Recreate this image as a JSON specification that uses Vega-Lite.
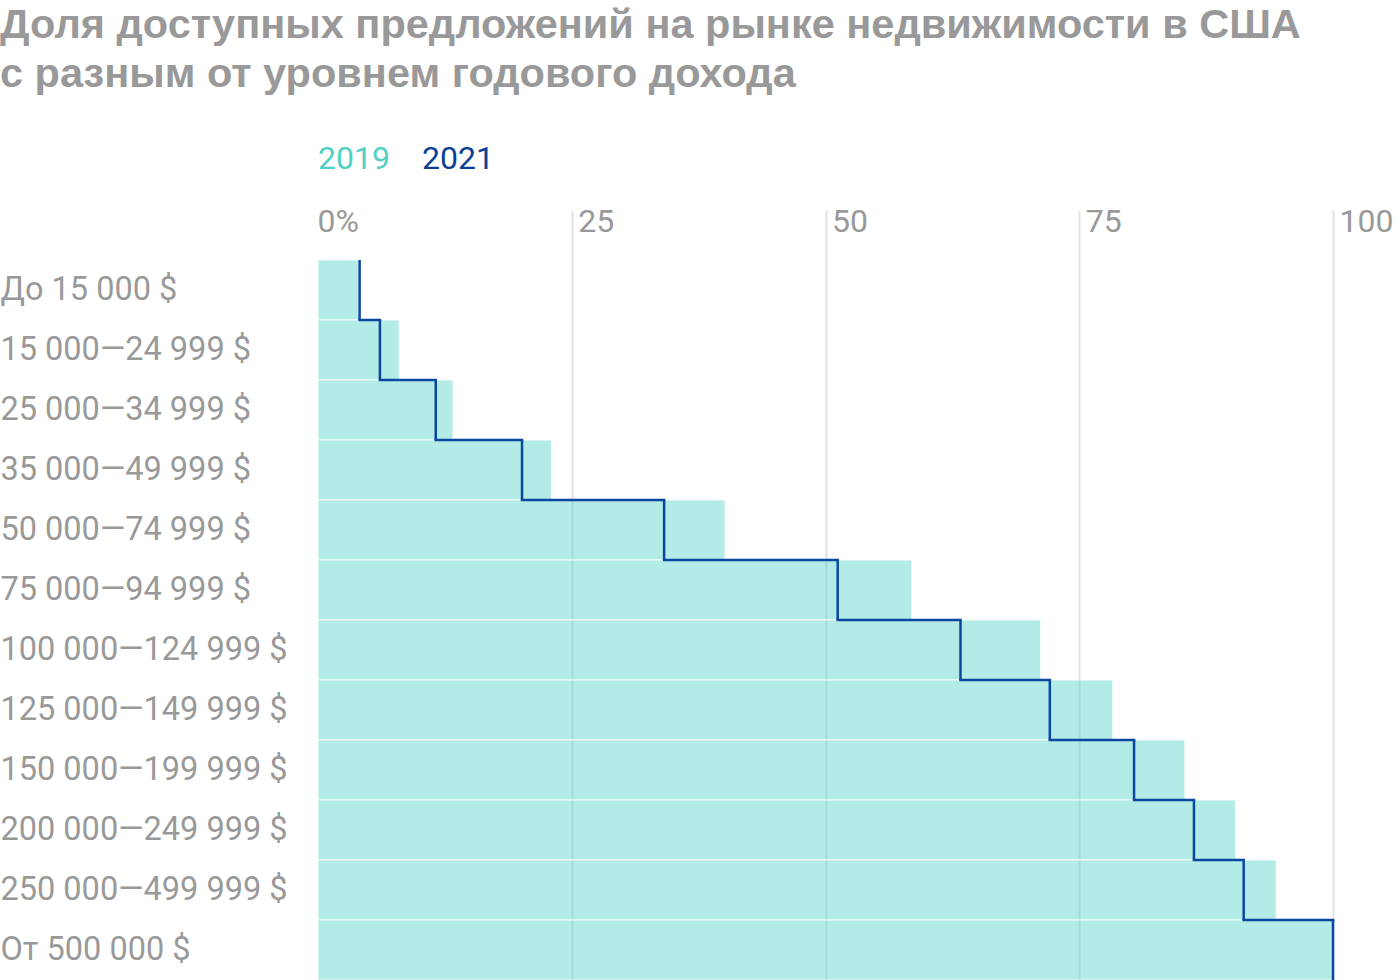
{
  "$schema": "https://vega.github.io/schema/vega-lite/v6.json",
  "autosize": {"type": "none"},
  "width": 1015,
  "height": 720,
  "padding": {"left": 318, "top": 260, "right": 67, "bottom": 0},
  "background": "white",
  "config": {
    "font": "Roboto",
    "view": {"stroke": null}
  },
  "title": {
    "text": ["Доля доступных предложений на рынке недвижимости в США", "с разным от уровнем годового дохода"],
    "anchor": "start",
    "frame": "group",
    "dx": -318,
    "offset": 15,
    "font": "Liberation Sans",
    "fontSize": 41.5,
    "fontWeight": "bold",
    "color": "#999999",
    "lineHeight": 49,
    "baseline": "alphabetic"
  },
  "data": {
    "values": [
      {"cat": "До 15 000 $", "order": 1, "v2019": 4.0, "v2021": 4.1},
      {"cat": "15 000—24 999 $", "order": 2, "v2019": 8.0, "v2021": 6.1},
      {"cat": "25 000—34 999 $", "order": 3, "v2019": 13.3, "v2021": 11.6},
      {"cat": "35 000—49 999 $", "order": 4, "v2019": 23.0, "v2021": 20.1},
      {"cat": "50 000—74 999 $", "order": 5, "v2019": 40.1, "v2021": 34.1},
      {"cat": "75 000—94 999 $", "order": 6, "v2019": 58.5, "v2021": 51.2},
      {"cat": "100 000—124 999 $", "order": 7, "v2019": 71.2, "v2021": 63.3},
      {"cat": "125 000—149 999 $", "order": 8, "v2019": 78.3, "v2021": 72.1},
      {"cat": "150 000—199 999 $", "order": 9, "v2019": 85.4, "v2021": 80.4},
      {"cat": "200 000—249 999 $", "order": 10, "v2019": 90.4, "v2021": 86.3},
      {"cat": "250 000—499 999 $", "order": 11, "v2019": 94.4, "v2021": 91.2},
      {"cat": "От 500 000 $", "order": 12, "v2019": 100, "v2021": 100}
    ]
  },
  "encoding": {
    "y": {
      "field": "cat",
      "type": "nominal",
      "sort": ["До 15 000 $", "15 000—24 999 $", "25 000—34 999 $", "35 000—49 999 $", "50 000—74 999 $", "75 000—94 999 $", "100 000—124 999 $", "125 000—149 999 $", "150 000—199 999 $", "200 000—249 999 $", "250 000—499 999 $", "От 500 000 $"],
      "scale": {"paddingInner": 0, "paddingOuter": 0},
      "axis": {
        "title": null,
        "orient": "left",
        "domain": false,
        "ticks": false,
        "labelAlign": "left",
        "labelBaseline": "middle",
        "labelPadding": 318,
        "labelLimit": 400,
        "labelFont": "Roboto",
        "labelFontSize": 32.5,
        "labelColor": "#999999"
      }
    }
  },
  "layer": [
    {
      "mark": {"type": "bar", "fillOpacity": 0.43, "stroke": "#ffffff", "strokeWidth": 1.5, "strokeOpacity": 0.55},
      "encoding": {
        "x": {
          "field": "v2019",
          "type": "quantitative",
          "scale": {"domain": [0, 100], "nice": false},
          "axis": {
            "title": null,
            "orient": "top",
            "values": [0, 25, 50, 75, 100],
            "labelExpr": "datum.value == 0 ? '0%' : datum.label",
            "domain": false,
            "grid": true,
            "gridColor": "#e3e3e3",
            "gridWidth": 2,
            "gridOpacity": {"condition": {"test": "datum.value == 0", "value": 0}, "value": 1},
            "tickColor": "#e3e3e3",
            "tickWidth": 2,
            "tickSize": 50,
            "tickOpacity": {"condition": {"test": "datum.value == 0", "value": 0}, "value": 1},
            "labelAlign": "left",
            "labelBaseline": "alphabetic",
            "labelPadding": -21,
            "labelOffset": {"condition": {"test": "datum.value == 0", "value": -1}, "value": 6},
            "labelFont": "Roboto",
            "labelFontSize": 32,
            "labelColor": "#999999",
            "labelFlush": false,
            "labelOverlap": false
          }
        },
        "color": {
          "datum": "2019",
          "type": "nominal",
          "scale": {"domain": ["2019", "2021"], "range": ["#4fd1c5", "#0a47a0"]},
          "legend": {
            "title": null,
            "orient": "none",
            "direction": "horizontal",
            "legendX": -32,
            "legendY": -117,
            "symbolSize": 0,
            "symbolOpacity": 0,
            "symbolStrokeWidth": 0,
            "labelOffset": 0,
            "columnPadding": -2,
            "labelFont": "Roboto",
            "labelFontSize": 32,
            "labelColor": {"expr": "datum.value == '2019' ? '#4fd1c5' : '#0a4196'"}
          }
        }
      }
    },
    {
      "mark": {"type": "tick", "thickness": 2.5, "size": 60, "opacity": 1},
      "encoding": {
        "x": {"field": "v2021", "type": "quantitative"},
        "color": {"datum": "2021", "type": "nominal"}
      }
    },
    {
      "transform": [
        {"window": [{"op": "lead", "field": "v2021", "as": "next2021"}], "sort": [{"field": "order"}]},
        {"filter": "datum.next2021 != null"}
      ],
      "mark": {"type": "rule", "strokeWidth": 2.5, "strokeCap": "square"},
      "encoding": {
        "y": {"field": "cat", "type": "nominal", "bandPosition": 1},
        "x": {"field": "v2021", "type": "quantitative"},
        "x2": {"field": "next2021"},
        "color": {"datum": "2021", "type": "nominal"}
      }
    }
  ]
}
